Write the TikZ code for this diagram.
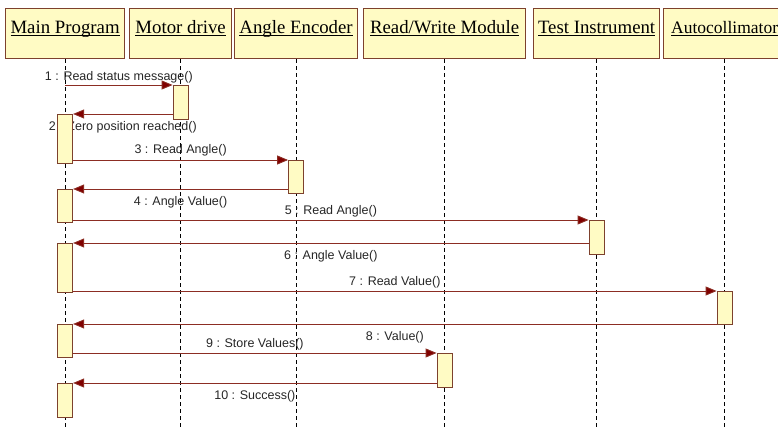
\documentclass[tikz,border=0pt]{standalone}
\usepackage{fontspec}
\setmainfont{Liberation Serif}
\newfontfamily\headfont{Liberation Serif}
\newfontfamily\msgfont{Liberation Sans}
\usetikzlibrary{arrows.meta}
\definecolor{boxfill}{RGB}{255,251,196}
\definecolor{boxline}{RGB}{125,65,45}
\definecolor{msgline}{RGB}{140,45,35}
\definecolor{tipred}{RGB}{128,0,0}
\pgfdeclarelayer{back}
\pgfsetlayers{back,main}
% underlined object name
\newcommand{\objname}[1]{\setbox0\hbox{#1}\rlap{\rule[-2.5pt]{\wd0}{0.9pt}}\box0}

\begin{document}
\begin{tikzpicture}[x=1pt,y=-1pt,
  head/.style={draw=boxline, line width=1.2pt, fill=boxfill, anchor=north west,
    inner sep=0pt, text height=25pt, text depth=25pt, font=\headfont\fontsize{18.8}{20}\selectfont},
  act/.style={draw=boxline, line width=1pt, fill=boxfill, minimum width=15pt,
    inner sep=0pt, anchor=north},
  lifeline/.style={black, line width=0.9pt, dash pattern=on 4pt off 3pt},
  msg/.style={draw=msgline, line width=0.9pt, -{Triangle[length=11pt,width=9pt,fill=tipred]}},
  lbl/.style={font=\msgfont\fontsize{12.5}{14}\selectfont, text=black!85, inner sep=1pt}]
  \clip (0,0) rectangle (778,427);
  \useasboundingbox (0,0) rectangle (778,427);
  % Objects
  \node[head, minimum width=119pt] (main) at (5,8) {\objname{Main Program}};
  \node[head, minimum width=102pt] (motor) at (129,8) {\objname{Motor drive}};
  \node[head, minimum width=123pt] (angle) at (234,8) {\objname{Angle Encoder}};
  \node[head, minimum width=162pt] (rwmod) at (363,8) {\objname{Read/Write Module}};
  \node[head, minimum width=126pt] (test) at (533,8) {\objname{Test Instrument}};
  \node[head, minimum width=122pt, font=\headfont\fontsize{17.5}{20}\selectfont] (auto) at (663,8) {\objname{Autocollimator}\hspace{9pt}};
  % Activations
  \node[act, minimum height=34pt] (mot) at (motor.south |- 0,85) {};
  \node[act, minimum height=49pt] (mA) at (main.south |- 0,114) {};
  \node[act, minimum height=33pt] (ang) at (angle.south |- 0,160) {};
  \node[act, minimum height=33pt] (mB) at (main.south |- 0,189) {};
  \node[act, minimum height=34pt] (tst) at (test.south |- 0,220) {};
  \node[act, minimum height=49pt] (mC) at (main.south |- 0,243) {};
  \node[act, minimum height=33pt] (aut) at (auto.south |- 0,291) {};
  \node[act, minimum height=33pt] (mD) at (main.south |- 0,324) {};
  \node[act, minimum height=34pt] (rw) at (rwmod.south |- 0,353) {};
  \node[act, minimum height=34pt] (mE) at (main.south |- 0,383) {};
  \begin{pgfonlayer}{back}
    % Lifelines
    \foreach \obj in {main,motor,angle,rwmod,test,auto}
      \draw[lifeline] (\obj.south) -- (\obj.south |- 0,427);
    % Messages
    \draw[msg] (main |- mot.north) -- node[lbl, above] {1 : Read status message()} (mot.north west);
    \draw[msg] (mot.west |- mA.north) -- node[lbl, below=6pt] {2 : Zero position reached()} (mA.north east);
    \draw[msg] (mA.east |- ang.north) -- node[lbl, above=2pt] {3 : Read Angle()} (ang.north west);
    \draw[msg] (ang.west |- mB.north) -- node[lbl, below=6pt] {4 : Angle Value()} (mB.north east);
    \draw[msg] (mB.east |- tst.north) -- node[lbl, above=1pt] {5 : Read Angle()} (tst.north west);
    \draw[msg] (tst.west |- mC.north) -- node[lbl, below=6pt] {6 : Angle Value()} (mC.north east);
    \draw[msg] (mC.east |- aut.north) -- node[lbl, above=1pt] {7 : Read Value()} (aut.north west);
    \draw[msg] (aut.west |- mD.north) -- node[lbl, below=6pt] {8 : Value()} (mD.north east);
    \draw[msg] (mD.east |- rw.north) -- node[lbl, above=1pt] {9 : Store Values()} (rw.north west);
    \draw[msg] (rw.west |- mE.north) -- node[lbl, below=6pt] {10 : Success()} (mE.north east);
  \end{pgfonlayer}
\end{tikzpicture}
\end{document}
